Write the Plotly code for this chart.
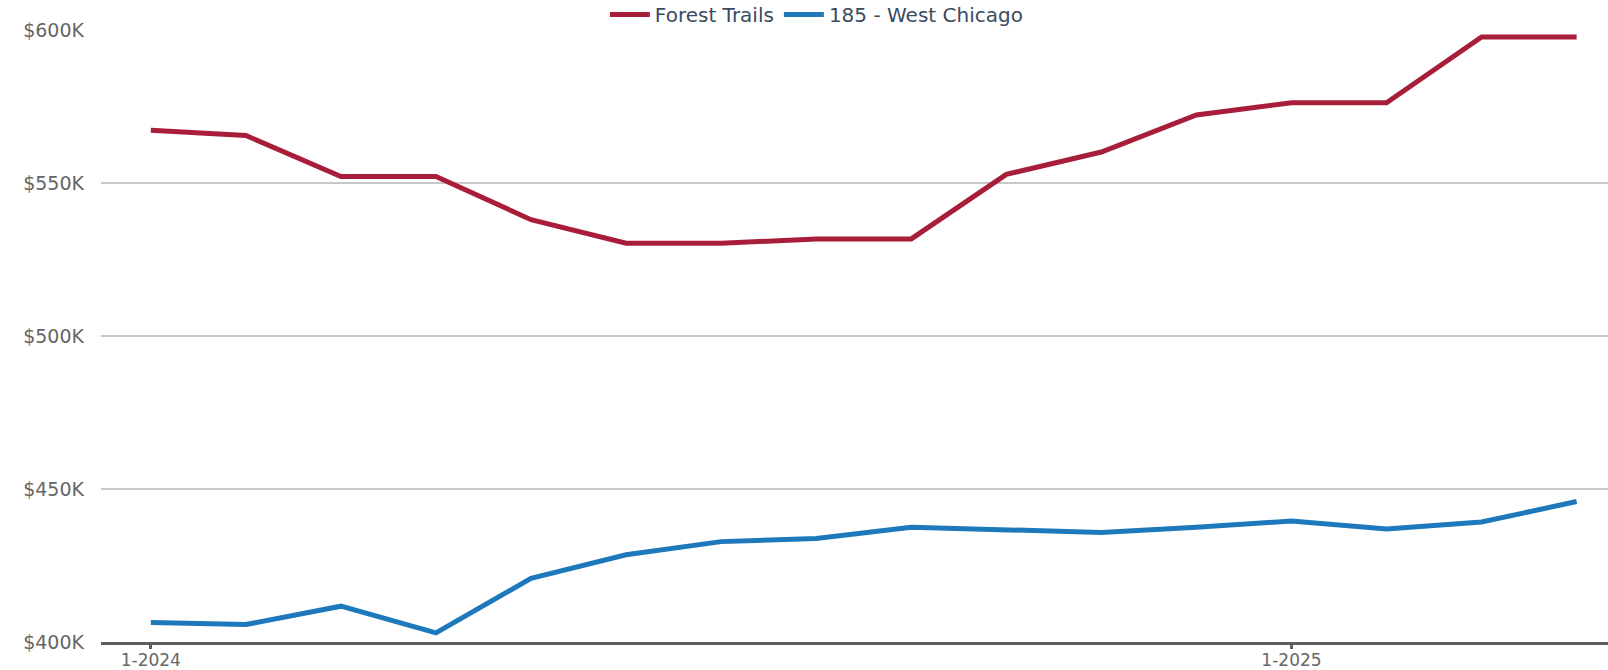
import plotly.graph_objects as go

months = ["1-2024", "2-2024", "3-2024", "4-2024", "5-2024", "6-2024", "7-2024", "8-2024",
          "9-2024", "10-2024", "11-2024", "12-2024", "1-2025", "2-2025", "3-2025", "4-2025"]
forest_trails = [567.2, 565.5, 552.1, 552.1, 538.0, 530.3, 530.3, 531.7,
                 531.7, 552.8, 560.1, 572.2, 576.2, 576.2, 597.7, 597.7]
west_chicago = [406.4, 405.7, 411.7, 403.0, 420.8, 428.5, 432.8, 433.8,
                437.5, 436.5, 435.8, 437.5, 439.5, 436.9, 439.2, 445.9]
y_ticks = [400, 450, 500, 550, 600]
y_labels = ["$400K", "$450K", "$500K", "$550K", "$600K"]
x_tick_idx = [0, 12]

xs = list(range(len(months)))

fig = go.Figure()
fig.add_trace(go.Scatter(x=xs, y=forest_trails, mode="lines", name="Forest Trails",
                         line=dict(color="#A81E3A", width=5),
                         customdata=months, hovertemplate="%{customdata}: $%{y}K"))
fig.add_trace(go.Scatter(x=xs, y=west_chicago, mode="lines", name="185 - West Chicago",
                         line=dict(color="#1E79BC", width=5),
                         customdata=months, hovertemplate="%{customdata}: $%{y}K"))

fig.update_layout(
    width=1608, height=670,
    margin=dict(l=101, r=0, t=29, b=28, autoexpand=False),
    paper_bgcolor="white", plot_bgcolor="white",
    font=dict(family="DejaVu Sans, Liberation Sans, sans-serif", size=19, color="#666666"),
    showlegend=True,
    legend=dict(orientation="h", x=0.508, xanchor="center", xref="container",
                y=0.9785, yanchor="middle", yref="container",
                font=dict(size=20, color="#3B4B5E"), itemwidth=40,
                bgcolor="rgba(0,0,0,0)"),
    xaxis=dict(range=[-0.524, 15.33], tickmode="array",
               tickvals=[xs[i] for i in x_tick_idx],
               ticktext=[months[i] for i in x_tick_idx],
               showgrid=False, zeroline=False,
               showline=True, linecolor="#5E5E5E", linewidth=3,
               ticks="outside", ticklen=4, tickwidth=3, tickcolor="#5E5E5E",
               ticklabelstandoff=-3,
               tickfont=dict(size=17, color="#666666")),
    yaxis=dict(range=[400, 600.3], tickmode="array", tickvals=y_ticks, ticktext=y_labels,
               showgrid=True, gridcolor="#C8C8C8", gridwidth=1.5,
               zeroline=False, showline=False, ticks="", ticklabelstandoff=16,
               tickfont=dict(size=19, color="#666666")),
)

fig.write_html("out.html", config={"displayModeBar": False},
               post_script="document.body.style.margin='0';")
